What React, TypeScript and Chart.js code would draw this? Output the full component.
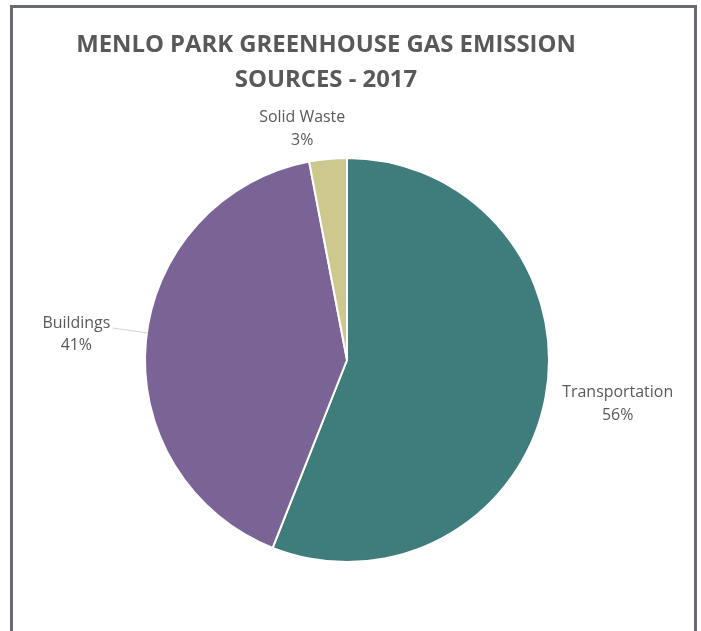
import React, { useEffect, useRef } from 'react';
import { Chart, registerables } from 'chart.js';

Chart.register(...registerables);

// ---- data ----
const titleLines = ['MENLO PARK GREENHOUSE GAS EMISSION', 'SOURCES - 2017'];
const categories = ['Transportation', 'Buildings', 'Solid Waste'];
const shares = [56, 41, 3];

// ---- styling ----
const FONT = '"Open Sans", "Noto Sans", "DejaVu Sans", sans-serif';
const sliceColors = ['#3e7d7b', '#7a6495', '#cdc88d'];
const TEXT_COLOR = '#595959';

// label placement relative to each slice: extra distance beyond the rim, angular nudge (deg)
const labelPlacement = [
  { extra: 72, shiftDeg: -1.9, leader: false },
  { extra: 70, shiftDeg: 0.3, leader: true },
  { extra: 35, shiftDeg: -5.5, leader: false },
];

function fitSize(ctx: CanvasRenderingContext2D, text: string, weight: string, target: number) {
  ctx.font = `${weight} 100px ${FONT}`;
  const w = ctx.measureText(text).width;
  return (100 * target) / w;
}

export default function App() {
  const ref = useRef<HTMLCanvasElement>(null);

  useEffect(() => {
    if (!ref.current) return;

    const labelPlugin = {
      id: 'pieLabelsAndTitle',
      afterDraw(chart: any) {
        const ctx: CanvasRenderingContext2D = chart.ctx;
        ctx.save();

        // title
        const tSize = fitSize(ctx, titleLines[0], 'bold', 500);
        ctx.font = `bold ${tSize}px ${FONT}`;
        ctx.fillStyle = TEXT_COLOR;
        ctx.textAlign = 'center';
        ctx.textBaseline = 'alphabetic';
        const titleX = 326;
        ctx.fillText(titleLines[0], titleX, 52);
        ctx.fillText(titleLines[1], titleX, 87);

        // data labels
        const lSize = fitSize(ctx, 'Transportation', 'normal', 111);
        ctx.font = `normal ${lSize}px ${FONT}`;
        const meta = chart.getDatasetMeta(0);
        const total = shares.reduce((a, b) => a + b, 0);
        meta.data.forEach((arc: any, i: number) => {
          const { x, y, startAngle, endAngle, outerRadius } = arc.getProps(
            ['x', 'y', 'startAngle', 'endAngle', 'outerRadius'],
            true
          );
          const p = labelPlacement[i];
          const a = (startAngle + endAngle) / 2 + (p.shiftDeg * Math.PI) / 180;
          const d = outerRadius + p.extra;
          const cx = x + Math.cos(a) * d;
          const cy = y + Math.sin(a) * d;
          const pct = Math.round((shares[i] / total) * 100) + '%';
          ctx.fillStyle = TEXT_COLOR;
          ctx.textAlign = 'center';
          ctx.fillText(categories[i], cx, cy - 5);
          ctx.fillText(pct, cx, cy + 17.5);

          if (p.leader) {
            const w = ctx.measureText(categories[i]).width;
            const sx = cx + w / 2 + 2;
            const sy = cy - 5;
            const ey = sy + 5;
            const r = outerRadius - 1;
            const ex = x - Math.sqrt(r * r - (ey - y) * (ey - y));
            ctx.strokeStyle = '#d4d4d4';
            ctx.lineWidth = 1;
            ctx.beginPath();
            ctx.moveTo(sx, sy);
            ctx.lineTo(ex, ey);
            ctx.stroke();
          }
        });
        ctx.restore();
      },
    };

    const chart = new Chart(ref.current, {
      type: 'pie',
      data: {
        labels: categories,
        datasets: [
          {
            data: shares,
            backgroundColor: sliceColors,
            borderColor: '#ffffff',
            borderWidth: 2,
            hoverOffset: 0,
            radius: 202,
          } as any,
        ],
      },
      options: {
        responsive: false,
        animation: false,
        events: [],
        layout: { padding: { left: 100, right: 107, top: 150, bottom: 61 } },
        plugins: {
          legend: { display: false },
          tooltip: { enabled: false },
          title: { display: false },
        },
      } as any,
      plugins: [labelPlugin],
    });

    return () => chart.destroy();
  }, []);

  return (
    <div
      style={{
        position: 'fixed',
        left: 0,
        top: 0,
        width: 701,
        height: 631,
        overflow: 'hidden',
        background: '#ffffff',
      }}
    >
      <canvas ref={ref} width={701} height={631} style={{ position: 'absolute', left: 0, top: 0 }} />
      <div
        style={{
          position: 'absolute',
          left: 10,
          top: 5,
          width: 687,
          height: 660,
          boxSizing: 'border-box',
          border: '3px solid #676b70',
          pointerEvents: 'none',
        }}
      />
    </div>
  );
}
